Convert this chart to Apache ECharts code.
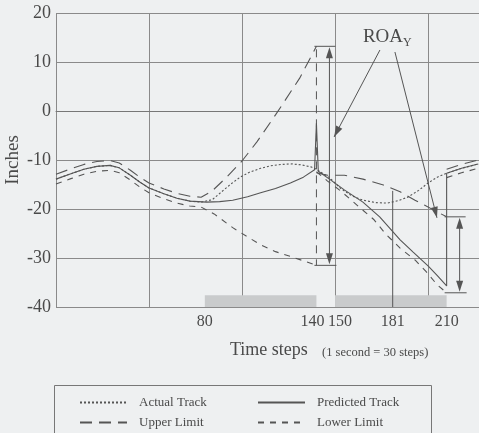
<!DOCTYPE html>
<html>
<head>
<meta charset="utf-8">
<script src="https://cdn.jsdelivr.net/npm/echarts@6/dist/echarts.min.js"></script>
<style>
  html, body { margin: 0; padding: 0; background: #eef0f1; }
  #chart { width: 479px; height: 433px; }
</style>
</head>
<body>
<div id="chart"></div>
<script>
// Event steps labelled on the time axis
const stepTicks = [80, 140, 150, 181, 210];

// Tracks: [time step, inches]
const actualTrack = [
  [0, -13.9], [8, -12.8], [15, -11.9], [22, -11.3], [29, -11.1], [34, -11.6], [40, -13.1],
  [45, -14.5], [50, -15.7], [58, -16.9], [65, -17.8], [72, -18.4], [78, -18.6], [84, -18.1],
  [89, -16.5], [94, -14.9], [99, -13.5], [104, -12.5], [110, -11.7], [115, -11.2], [121, -10.9],
  [127, -10.8], [132, -11.0], [137, -11.4], [140, -11.9], [147, -13.6], [153, -15.8], [159, -17.3],
  [165, -18.2], [172, -18.7], [178, -18.8], [184, -18.3], [189, -17.6], [195, -16.2], [200, -14.7],
  [205, -13.5], [210, -12.7], [218, -11.7], [227, -10.8]
];

const predictedTrack = [
  [0, -13.9], [8, -12.8], [15, -11.9], [22, -11.3], [29, -11.1], [34, -11.6], [40, -13.1],
  [45, -14.5], [50, -15.7], [58, -16.9], [65, -17.8], [72, -18.4], [81, -18.6], [88, -18.5],
  [95, -18.2], [103, -17.5], [110, -16.7], [118, -15.8], [126, -14.7], [133, -13.5], [139, -12.0],
  [140, -2.5], [141, -12.3], [147, -13.9], [155, -16.1], [165, -18.6], [174, -21.6], [185, -26.3],
  [192, -28.8], [200, -31.6], [205, -33.6], [210, -35.7], [210, -12.7], [218, -11.7], [227, -10.8]
];

const upperLimit = [
  [0, -12.9], [8, -11.8], [15, -10.9], [22, -10.3], [29, -10.1], [34, -10.6], [40, -12.1],
  [45, -13.5], [50, -14.7], [58, -15.9], [65, -16.8], [72, -17.4], [78, -17.6], [84, -16.3],
  [92, -13.4], [100, -10.2], [108, -6.3], [118, -0.8], [131, 6.7], [140, 13.2], [140, null],
  [140, -12.6], [146, -13.1], [155, -13.1], [165, -13.9], [176, -15.1], [185, -16.5], [193, -18.2],
  [198, -19.2], [204, -20.4], [210, -21.6], [210, null], [210, -11.9], [218, -10.9], [227, -10.0]
];

const lowerLimit = [
  [0, -14.9], [8, -13.8], [15, -12.9], [22, -12.3], [29, -12.1], [34, -12.6], [40, -14.1],
  [45, -15.5], [50, -16.7], [58, -17.9], [65, -18.8], [72, -19.4], [78, -19.6], [85, -21.0],
  [95, -23.8], [103, -25.7], [110, -27.3], [118, -28.7], [127, -29.8], [134, -30.7], [140, -31.5],
  [140, null], [140, -12.4], [146, -14.3], [153, -16.3], [163, -19.6], [171, -22.2], [177, -25.0],
  [185, -28.0], [193, -30.4], [199, -32.8], [205, -35.5], [210, -37.1], [210, null],
  [210, -13.6], [218, -12.6], [227, -11.7]
];

// Region-of-acceptance intervals (ROA_Y) at the two measurement steps
const roaSteps = [140, 210];
const roaUpper = [13.2, -21.6];
const roaLower = [-31.5, -37.1];

// Marker line at step 181
const markerStep = 181;
const markerRange = [-16.3, -40];

// Shaded time bands along the bottom of the plot
const bandRanges = [[80, 140], [150, 210]];
const bandTop = -37.6;

// ROA_Y caption anchor and the points its pointers aim at
const roaLabelAt = [165, 15.1];
const roaPointers = [[149.5, -5.3], [204.8, -21.8]];

const SERIF = '"Liberation Serif", "Times New Roman", serif';
const INK = '#4a4a4a';
const STROKE = '#555';

const chart = echarts.init(document.getElementById('chart'), null, { renderer: 'canvas' });

function arrowHead(tip, from, len, half) {
  const dx = tip[0] - from[0], dy = tip[1] - from[1];
  const d = Math.hypot(dx, dy) || 1;
  const ux = dx / d, uy = dy / d;
  const bx = tip[0] - ux * len, by = tip[1] - uy * len;
  return [[tip[0], tip[1]], [bx - uy * half, by + ux * half], [bx + uy * half, by - ux * half]];
}

function lineEl(x1, y1, x2, y2, dash) {
  return {
    type: 'line',
    shape: { x1, y1, x2, y2 },
    style: { stroke: STROKE, lineWidth: 1, lineDash: dash || null }
  };
}

function renderBand(params, api) {
  const p0 = api.coord([api.value(0), bandTop]);
  const p1 = api.coord([api.value(1), -40]);
  return {
    type: 'rect',
    shape: { x: p0[0], y: p0[1], width: p1[0] - p0[0], height: p1[1] - p0[1] },
    style: { fill: '#c9cbcc' }
  };
}

function renderRoa(params, api) {
  const s = api.value(0);
  const pTop = api.coord([s, api.value(1)]);
  const pBot = api.coord([s, api.value(2)]);
  const x = pTop[0], yT = pTop[1], yB = pBot[1];
  const ax = x + 13;
  const children = [
    lineEl(x - 2, yT, x + 19, yT),
    lineEl(x - 2, yB, x + 20, yB),
    lineEl(ax, yT + 8, ax, yB - 8),
    { type: 'polygon', shape: { points: [[ax, yT + 1], [ax - 3.5, yT + 12], [ax + 3.5, yT + 12]] }, style: { fill: STROKE } },
    { type: 'polygon', shape: { points: [[ax, yB - 1], [ax - 3.5, yB - 12], [ax + 3.5, yB - 12]] }, style: { fill: STROKE } }
  ];
  if (params.dataIndex === 0) {
    children.push(lineEl(x, yT + 3, x, yB, [8, 6]));
  }
  return { type: 'group', children };
}

function renderCaption(params, api) {
  const p = api.coord([api.value(0), api.value(1)]);
  const children = [
    { type: 'text', x: p[0], y: p[1], style: { text: 'ROA', font: '19px ' + SERIF, fill: INK, align: 'left', verticalAlign: 'middle' } },
    { type: 'text', x: p[0] + 40, y: p[1] + 6, style: { text: 'Y', font: '12px ' + SERIF, fill: INK, align: 'left', verticalAlign: 'middle' } }
  ];
  const tails = [[p[0] + 17, p[1] + 13], [p[0] + 32, p[1] + 15]];
  roaPointers.forEach((pt, i) => {
    const tip = api.coord(pt);
    const tail = tails[i];
    children.push(lineEl(tail[0], tail[1], tip[0], tip[1]));
    children.push({ type: 'polygon', shape: { points: arrowHead(tip, tail, 11, 3.5) }, style: { fill: STROKE } });
  });
  return { type: 'group', children };
}

const lineBase = { type: 'line', symbol: 'none', connectNulls: false, animation: false, z: 3 };

// One legend per entry so each sits in its own cell of the 2x2 key
function legendCell(name, left, top, gap) {
  return {
    data: [name], left, top, orient: 'horizontal',
    itemWidth: 47, itemHeight: 12, selectedMode: false,
    itemStyle: { opacity: 0 },
    textStyle: { fontFamily: SERIF, fontSize: 13, color: INK, padding: [0, 0, 0, gap] }
  };
}

chart.setOption({
  backgroundColor: '#eef0f1',
  animation: false,
  grid: { left: 56, right: 0, top: 13, bottom: 126, containLabel: false, outerBoundsMode: 'none' },
  xAxis: {
    type: 'value',
    min: 0,
    max: 227.4,
    interval: 50,
    axisLine: { show: true, lineStyle: { color: '#777', width: 1 } },
    axisTick: { show: false },
    splitLine: { show: true, lineStyle: { color: '#8a8a8a', width: 1 } },
    axisLabel: {
      customValues: stepTicks,
      margin: 7,
      color: INK,
      fontFamily: SERIF,
      fontSize: 16,
      formatter: v => v === 140 ? '{l|140}' : v === 150 ? '{r|150}' : String(v),
      rich: {
        l: { fontFamily: SERIF, fontSize: 16, color: INK, padding: [0, 8, 0, 0] },
        r: { fontFamily: SERIF, fontSize: 16, color: INK, padding: [0, 0, 0, 10] }
      }
    }
  },
  yAxis: {
    type: 'value',
    min: -40,
    max: 20,
    interval: 10,
    name: 'Inches',
    nameLocation: 'middle',
    nameRotate: 90,
    nameGap: 33,
    nameMoveOverlap: false,
    nameTextStyle: { fontFamily: SERIF, fontSize: 19, color: INK },
    axisLine: { show: false },
    axisTick: { show: false },
    splitLine: { show: true, lineStyle: { color: '#8a8a8a', width: 1 } },
    axisLabel: { margin: 5, color: INK, fontFamily: SERIF, fontSize: 18 }
  },
  legend: [
    legendCell('Actual Track', 74, 391, 7),
    legendCell('Upper Limit', 74, 411, 7),
    legendCell('Predicted Track', 252, 391, 7),
    legendCell('Lower Limit', 252, 411, 7)
  ],
  graphic: [
    { type: 'rect', left: 52, top: 383, shape: { width: 377, height: 70 }, style: { fill: 'none', stroke: '#777', lineWidth: 1 } },
    { type: 'text', left: 230, top: 341, style: { text: 'Time steps', font: '18px ' + SERIF, fill: INK } },
    { type: 'text', left: 322, top: 346, style: { text: '(1 second = 30 steps)', font: '12.5px ' + SERIF, fill: INK } }
  ],
  series: [
    {
      type: 'custom', name: 'bands', renderItem: renderBand, z: 1,
      data: bandRanges, encode: { x: [0, 1] }, silent: true
    },
    Object.assign({}, lineBase, {
      name: 'Actual Track', data: actualTrack,
      lineStyle: { color: STROKE, width: 1.1, type: [2, 2] }, itemStyle: { color: STROKE }
    }),
    Object.assign({}, lineBase, {
      name: 'Predicted Track', data: predictedTrack,
      lineStyle: { color: STROKE, width: 1.1, type: 'solid' }, itemStyle: { color: STROKE }
    }),
    Object.assign({}, lineBase, {
      name: 'Upper Limit', data: upperLimit,
      lineStyle: { color: STROKE, width: 1.1, type: [12, 7] }, itemStyle: { color: STROKE }
    }),
    Object.assign({}, lineBase, {
      name: 'Lower Limit', data: lowerLimit,
      lineStyle: { color: STROKE, width: 1.1, type: [6, 6] }, itemStyle: { color: STROKE }
    }),
    Object.assign({}, lineBase, {
      name: 'marker', data: markerRange.map(v => [markerStep, v]),
      lineStyle: { color: STROKE, width: 1 }
    }),
    {
      type: 'custom', name: 'roa', renderItem: renderRoa, z: 4, silent: true,
      data: roaSteps.map((s, i) => [s, roaUpper[i], roaLower[i]]), encode: { x: 0, y: [1, 2] }
    },
    {
      type: 'custom', name: 'caption', renderItem: renderCaption, z: 4, silent: true, clip: false,
      data: [roaLabelAt], encode: { x: 0, y: 1 }
    }
  ]
});
</script>
</body>
</html>
